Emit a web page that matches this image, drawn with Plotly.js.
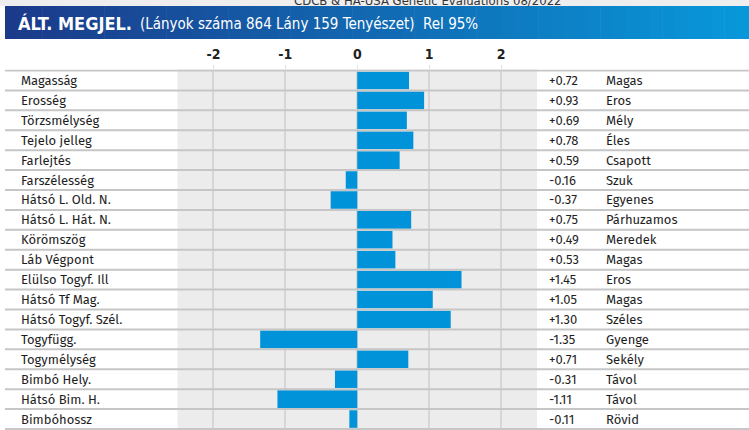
<!DOCTYPE html>
<html>
<head>
<meta charset="utf-8">
<script src="https://cdn.plot.ly/plotly-3.0.1.min.js"></script>
<style>
  html, body { margin: 0; padding: 0; background: #ffffff; }
  #chart { width: 749px; height: 430px; }
</style>
</head>
<body>
<div id="chart"></div>
<script>
// traits, top to bottom
const traits = [
  'Magasság', 'Erosség', 'Törzsmélység', 'Tejelo jelleg', 'Farlejtés',
  'Farszélesség', 'Hátsó L. Old. N.', 'Hátsó L. Hát. N.', 'Körömszög', 'Láb Végpont',
  'Elülso Togyf. Ill', 'Hátsó Tf Mag.', 'Hátsó Togyf. Szél.', 'Togyfügg.', 'Togymélység',
  'Bimbó Hely.', 'Hátsó Bim. H.', 'Bimbóhossz'
];
const values = [
  0.72, 0.93, 0.69, 0.78, 0.59,
  -0.16, -0.37, 0.75, 0.49, 0.53,
  1.45, 1.05, 1.30, -1.35, 0.71,
  -0.31, -1.11, -0.11
];
const descriptors = [
  'Magas', 'Eros', 'Mély', 'Éles', 'Csapott',
  'Szuk', 'Egyenes', 'Párhuzamos', 'Meredek', 'Magas',
  'Eros', 'Magas', 'Széles', 'Gyenge', 'Sekély',
  'Távol', 'Távol', 'Rövid'
];
const tickVals = [-2, -1, 0, 1, 2];

const W = 749, H = 430;
const px = x => x / W;
const py = y => 1 - y / H;

const textFont = { family: 'Fira Sans, Open Sans, sans-serif', size: 13, color: '#1e1e1e' };
const condensed = 'Liberation Sans Narrow, DejaVu Sans Condensed, sans-serif';

function fmt(v) {
  return (v >= 0 ? '+' : '-') + Math.abs(v).toFixed(2);
}

const shapes = [];
const annotations = [];

// light strip at the very top
shapes.push({ type: 'rect', xref: 'paper', yref: 'paper', x0: 0, x1: 1, y0: py(6), y1: 1,
  fillcolor: '#eeeeee', line: { width: 0 }, layer: 'below' });

// header banner, gradient built from thin strips
const c0 = [27, 58, 138], c1 = [8, 152, 218];
const n = 60, bx0 = 5, bx1 = W;
for (let i = 0; i < n; i++) {
  const t = i / (n - 1);
  const c = c0.map((a, k) => Math.round(a + (c1[k] - a) * t));
  shapes.push({ type: 'rect', xref: 'paper', yref: 'paper',
    x0: px(bx0 + (bx1 - bx0) * i / n), x1: px(bx0 + (bx1 - bx0) * (i + 1) / n + 0.6),
    y0: py(39), y1: py(6),
    fillcolor: 'rgb(' + c.join(',') + ')', line: { width: 0 }, layer: 'below' });
}

// row separators
for (let i = 0; i <= traits.length; i++) {
  shapes.push({ type: 'line', xref: 'paper', yref: 'y', x0: px(5), x1: 1,
    y0: i - 0.5, y1: i - 0.5, line: { color: '#c6c6c6', width: 2 }, layer: 'above' });
}

annotations.push({ xref: 'paper', yref: 'paper', x: px(428), y: py(0), yanchor: 'middle',
  text: 'CDCB & HA-USA Genetic Evaluations 08/2022', showarrow: false,
  font: { family: condensed, size: 13, color: '#333' } });
annotations.push({ xref: 'paper', yref: 'paper', x: px(16), y: py(23), xanchor: 'left', yanchor: 'middle',
  text: 'ÁLT. MEGJEL.', showarrow: false,
  font: { family: condensed, size: 18, weight: 'bold', color: '#ffffff' } });
annotations.push({ xref: 'paper', yref: 'paper', x: px(138), y: py(24), xanchor: 'left', yanchor: 'middle',
  text: '(Lányok száma 864 Lány 159 Tenyészet)  Rel 95%', showarrow: false,
  font: { family: condensed, size: 15, color: '#ffffff' } });

traits.forEach((t, i) => {
  annotations.push({ xref: 'paper', yref: 'y', x: px(19), y: t, xanchor: 'left', yanchor: 'middle',
    text: t, showarrow: false, font: textFont });
  annotations.push({ xref: 'paper', yref: 'y', x: px(547), y: t, xanchor: 'left', yanchor: 'middle',
    text: fmt(values[i]), showarrow: false, font: textFont });
  annotations.push({ xref: 'paper', yref: 'y', x: px(604), y: t, xanchor: 'left', yanchor: 'middle',
    text: descriptors[i], showarrow: false, font: textFont });
});

const data = [{
  type: 'bar',
  orientation: 'h',
  x: values,
  y: traits,
  width: 0.88,
  marker: { color: '#0093d9', line: { width: 0 } },
  hoverinfo: 'x+y'
}];

const layout = {
  width: W,
  height: H,
  margin: { l: 0, r: 0, t: 0, b: 0 },
  paper_bgcolor: '#ffffff',
  plot_bgcolor: '#ececec',
  showlegend: false,
  xaxis: {
    domain: [px(177.5), px(537)],
    range: [-2.5, 2.5],
    side: 'top',
    tickvals: tickVals,
    ticktext: tickVals.map(String),
    tickfont: { family: condensed, size: 14, weight: 'bold', color: '#222' },
    ticks: 'outside',
    ticklen: 4,
    tickcolor: '#e2e2e2',
    showgrid: true,
    gridcolor: '#d6d6d6',
    gridwidth: 2,
    zeroline: false,
    showline: false,
    fixedrange: true
  },
  yaxis: {
    domain: [0, py(69.5)],
    type: 'category',
    autorange: 'reversed',
    showticklabels: false,
    showgrid: false,
    zeroline: false,
    ticks: '',
    fixedrange: true
  },
  shapes: shapes,
  annotations: annotations
};

Plotly.newPlot('chart', data, layout, { displayModeBar: false, staticPlot: true });
</script>
</body>
</html>
